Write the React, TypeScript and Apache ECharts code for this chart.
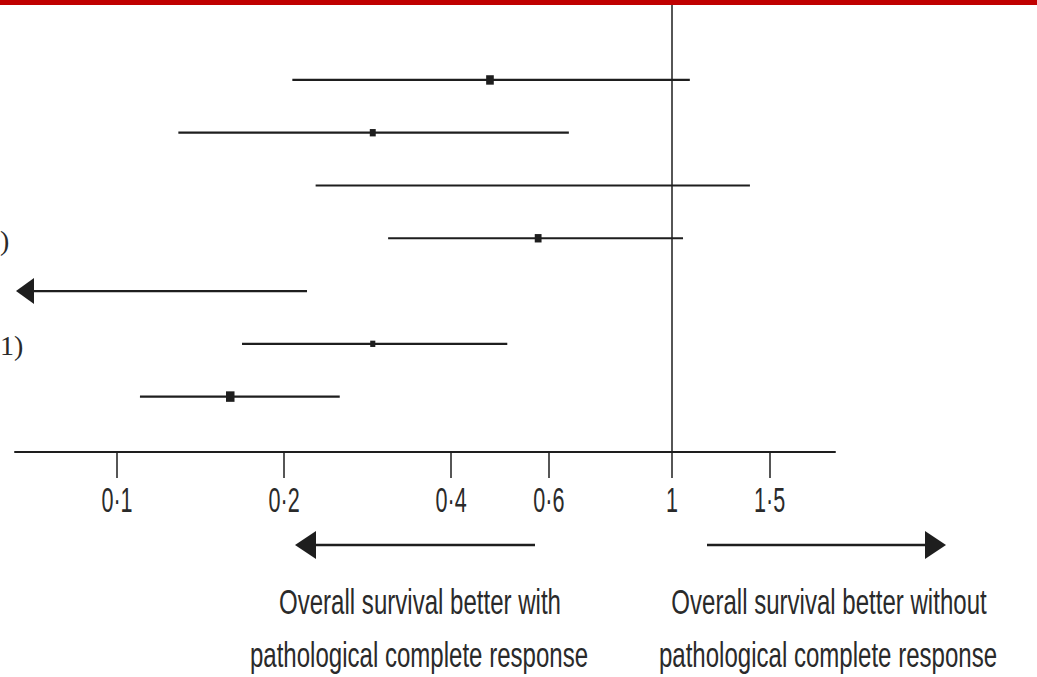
import React, { useEffect, useRef } from "react";
import * as echarts from "echarts";

// ---- data (hazard ratios, log scale) ----
const rowIds = [1, 2, 3, 4, 5, 6, 7];
const lowerCI: (number | null)[] = [0.207, 0.129, 0.228, 0.308, null, 0.168, 0.11];
const estimates: (number | null)[] = [0.47, 0.289, null, 0.574, null, 0.289, 0.16];
const upperCI = [1.077, 0.652, 1.382, 1.047, 0.22, 0.505, 0.252];
const weights = [9, 7, 0, 8, 0, 6, 10];
const tickValues = [0.1, 0.2, 0.4, 0.6, 1, 1.5];
const tickLabels = ["0·1", "0·2", "0·4", "0·6", "1", "1·5"];
const referenceValue = 1;
const axisMinValue = 0.0655;
const axisMaxValue = 1.967;
const leftCaption = ["Overall survival better with", "pathological complete response"];
const rightCaption = ["Overall survival better without", "pathological complete response"];
const cutRowLabels = [")", "1)"];

const lg = (v: number | null) => (v == null ? null : Math.log10(v));

export default function App() {
  const ref = useRef<HTMLDivElement>(null);
  useEffect(() => {
    if (!ref.current) return;
    const chart = echarts.init(ref.current, null, { renderer: "svg" });
    const xMin = Math.log10(axisMinValue);
    const xMax = Math.log10(axisMaxValue);
    const yMin = -0.515;
    const yMax = 8.05;
    const data = rowIds.map((r, i) => [
      r,
      lg(lowerCI[i]),
      lg(estimates[i]),
      lg(upperCI[i]),
      weights[i],
    ]);
    const ink = "#1e1e1e";
    const textInk = "#2a2a2a";
    const capFont = "Liberation Sans, Arial, sans-serif";
    const caption = (txt: string, x: number, y: number) => ({
      type: "text",
      x,
      y,
      scaleX: 0.668,
      style: {
        text: txt,
        fill: textInk,
        font: `36px ${capFont}`,
        textAlign: "center",
        textVerticalAlign: "middle",
      },
    });
    chart.setOption({
      animation: false,
      backgroundColor: "#ffffff",
      grid: { left: 15, right: 202, top: 0, bottom: 225, containLabel: false },
      xAxis: {
        type: "value",
        min: xMin,
        max: xMax,
        splitLine: { show: false },
        axisLine: { show: true, onZero: false, lineStyle: { color: ink, width: 2 } },
        axisTick: {
          show: true,
          length: 26,
          customValues: tickValues.map((v) => Math.log10(v)),
          lineStyle: { color: ink, width: 1.5 },
        },
        axisLabel: { show: false },
      },
      yAxis: {
        type: "value",
        inverse: true,
        min: yMin,
        max: yMax,
        show: false,
      },
      series: [
        {
          type: "custom",
          clip: false,
          data,
          renderItem: (params: any, api: any) => {
            const row = api.value(0);
            const lo = api.value(1);
            const est = api.value(2);
            const hi = api.value(3);
            const w = api.value(4);
            const hasLo = lo != null && isFinite(lo);
            const pHi = api.coord([hi, row]);
            const pLo = hasLo ? api.coord([lo, row]) : api.coord([xMin, row]);
            const children: any[] = [];
            const lineStart = hasLo ? pLo[0] : pLo[0] + 14;
            children.push({
              type: "line",
              shape: { x1: lineStart, y1: pHi[1], x2: pHi[0], y2: pHi[1] },
              style: { stroke: ink, lineWidth: 2.2 },
            });
            if (!hasLo) {
              children.push({
                type: "polygon",
                shape: {
                  points: [
                    [pLo[0] + 1, pLo[1]],
                    [pLo[0] + 19, pLo[1] - 13],
                    [pLo[0] + 19, pLo[1] + 13],
                  ],
                },
                style: { fill: ink },
              });
            }
            if (est != null && isFinite(est) && w > 0) {
              const pe = api.coord([est, row]);
              const sw = w * 0.85;
              const sh = w * 1.05;
              children.push({
                type: "rect",
                shape: { x: pe[0] - sw / 2, y: pe[1] - sh / 2, width: sw, height: sh },
                style: { fill: ink },
              });
            }
            return { type: "group", children };
          },
          markLine: {
            silent: true,
            symbol: "none",
            label: { show: false },
            lineStyle: { color: ink, width: 1.5, type: "solid" },
            data: [{ xAxis: Math.log10(referenceValue) }],
          },
        },
        {
          // tick labels, positioned through the x axis scale
          type: "custom",
          clip: false,
          silent: true,
          data: tickValues.map((v, i) => [Math.log10(v), i]),
          renderItem: (params: any, api: any) => {
            const p = api.coord([api.value(0), yMax]);
            const i = api.value(1);
            return {
              type: "text",
              x: p[0],
              y: p[1] + 47,
              scaleX: 0.6,
              style: {
                text: tickLabels[i],
                fill: textInk,
                font: `36px ${capFont}`,
                textAlign: "center",
                textVerticalAlign: "middle",
              },
            };
          },
        },
      ],
      graphic: [
        { type: "rect", left: 0, top: 0, shape: { width: 1037, height: 5 }, style: { fill: "#c00000" }, z: 100 },
        {
          type: "text",
          x: 0,
          y: 240,
          style: { text: cutRowLabels[0], fill: textInk, font: "28px Liberation Serif, serif", textAlign: "left", textVerticalAlign: "middle" },
        },
        {
          type: "text",
          x: 0,
          y: 345,
          style: { text: cutRowLabels[1], fill: textInk, font: "28px Liberation Serif, serif", textAlign: "left", textVerticalAlign: "middle" },
        },
        // direction arrows
        { type: "line", shape: { x1: 312, y1: 545, x2: 535, y2: 545 }, style: { stroke: ink, lineWidth: 2.5 } },
        { type: "polygon", shape: { points: [[295, 545], [316, 531], [316, 559]] }, style: { fill: ink } },
        { type: "line", shape: { x1: 707, y1: 545, x2: 928, y2: 545 }, style: { stroke: ink, lineWidth: 2.5 } },
        { type: "polygon", shape: { points: [[946, 545], [925, 531], [925, 559]] }, style: { fill: ink } },
        caption(leftCaption[0], 420, 601),
        caption(leftCaption[1], 419, 654),
        caption(rightCaption[0], 829, 601),
        caption(rightCaption[1], 828, 654),
      ],
    });
    return () => chart.dispose();
  }, []);
  return (
    <div
      ref={ref}
      style={{ position: "fixed", left: 0, top: 0, width: 1037, height: 677, background: "#fff" }}
    />
  );
}
